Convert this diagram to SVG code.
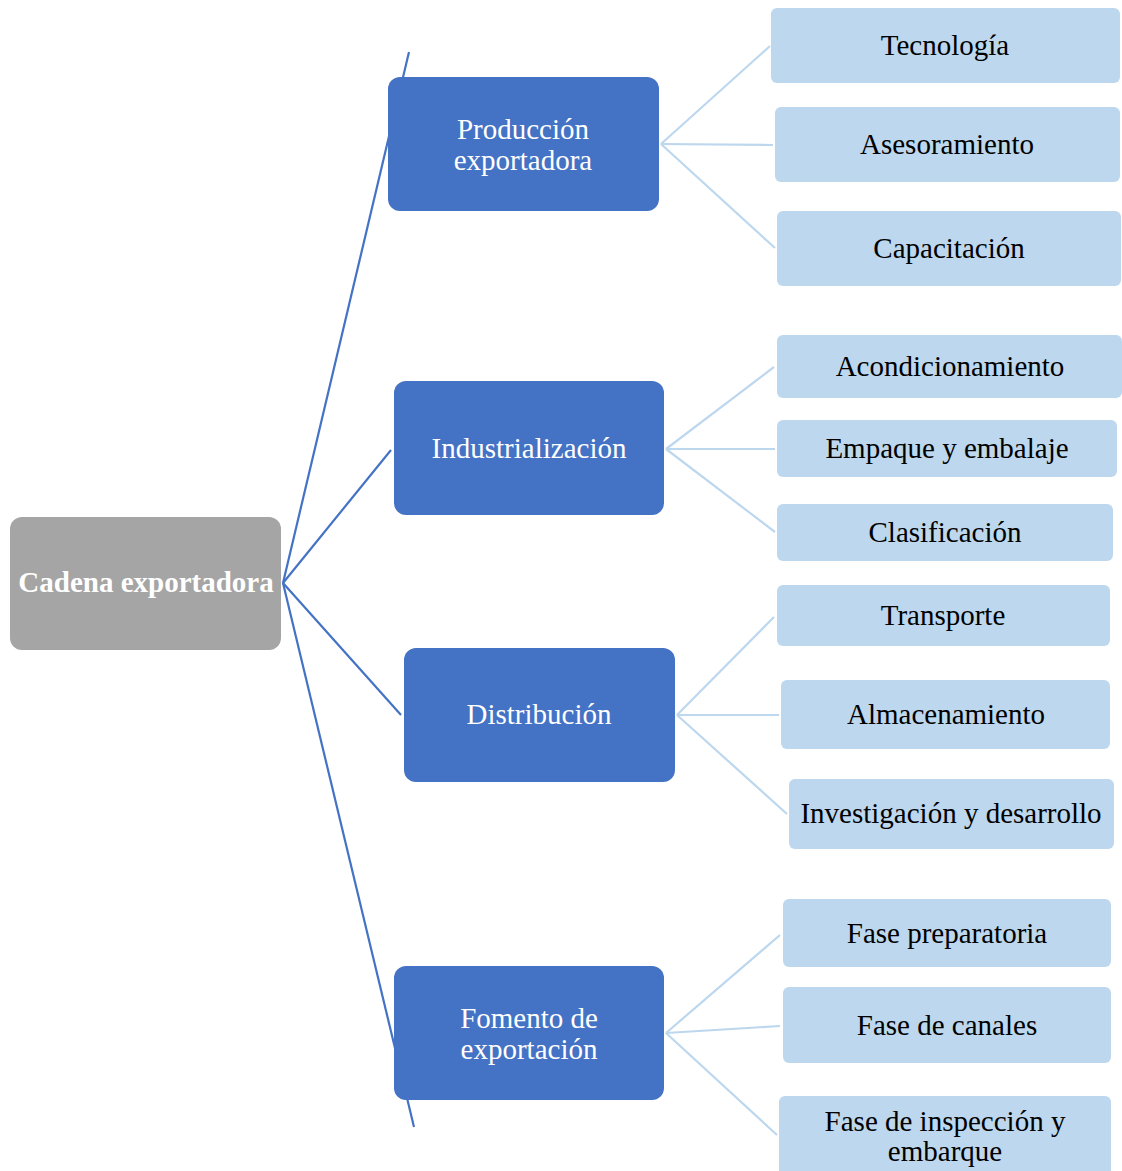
<svg xmlns="http://www.w3.org/2000/svg" width="1122" height="1171" viewBox="0 0 1122 1171">
<style>
text{font-family:"Liberation Serif","Times New Roman",serif;font-size:29px;text-anchor:middle}
.root rect{fill:#a5a5a5}
.root text{fill:#fff;font-weight:bold}
.l1 rect{fill:#4472c4}
.l1 text{fill:#fff}
.l2 rect{fill:#bdd7ee}
.l2 text{fill:#000}
.c1 line{stroke:#4472c4;stroke-width:2.2}
.c2 line{stroke:#bdd7ee;stroke-width:2.2}
</style>
<rect width="1122" height="1171" fill="#fff"/>
<g id="connectors">
<g class="c1">
<line x1="283" y1="583" x2="409" y2="52"/>
<line x1="283" y1="583" x2="391" y2="450"/>
<line x1="283" y1="583" x2="401" y2="715"/>
<line x1="283" y1="583" x2="414" y2="1127"/>
</g>
<g class="c2">
<line x1="661" y1="144" x2="770" y2="46"/>
<line x1="661" y1="144" x2="773" y2="145"/>
<line x1="661" y1="144" x2="775" y2="248"/>
<line x1="666" y1="449" x2="774" y2="367"/>
<line x1="666" y1="449" x2="775" y2="449"/>
<line x1="666" y1="449" x2="775" y2="532"/>
<line x1="677" y1="715" x2="774" y2="617"/>
<line x1="677" y1="715" x2="779" y2="715"/>
<line x1="677" y1="715" x2="787" y2="814"/>
<line x1="666" y1="1033" x2="780" y2="935"/>
<line x1="666" y1="1033" x2="780" y2="1026"/>
<line x1="666" y1="1033" x2="777" y2="1135"/>
</g>
</g>
<g id="root" class="root"><rect x="10" y="517" width="271" height="133" rx="12"/><text x="146" y="592">Cadena exportadora</text></g>
<g id="produccion" class="l1"><rect x="388" y="77" width="271" height="134" rx="12"/><text x="523" y="139">Producción</text><text x="523" y="170">exportadora</text></g>
<g id="industrializacion" class="l1"><rect x="394" y="381" width="270" height="134" rx="12"/><text x="529" y="458">Industrialización</text></g>
<g id="distribucion" class="l1"><rect x="404" y="648" width="271" height="134" rx="12"/><text x="539" y="724">Distribución</text></g>
<g id="fomento" class="l1"><rect x="394" y="966" width="270" height="134" rx="12"/><text x="529" y="1028">Fomento de</text><text x="529" y="1059">exportación</text></g>
<g id="tecnologia" class="l2"><rect x="771" y="8" width="349" height="75" rx="6"/><text x="945" y="55">Tecnología</text></g>
<g id="asesoramiento" class="l2"><rect x="775" y="107" width="345" height="75" rx="6"/><text x="947" y="154">Asesoramiento</text></g>
<g id="capacitacion" class="l2"><rect x="777" y="211" width="344" height="75" rx="6"/><text x="949" y="258">Capacitación</text></g>
<g id="acondicionamiento" class="l2"><rect x="777" y="335" width="345" height="63" rx="6"/><text x="950" y="376">Acondicionamiento</text></g>
<g id="empaque" class="l2"><rect x="777" y="420" width="340" height="57" rx="6"/><text x="947" y="458">Empaque y embalaje</text></g>
<g id="clasificacion" class="l2"><rect x="777" y="504" width="336" height="57" rx="6"/><text x="945" y="542">Clasificación</text></g>
<g id="transporte" class="l2"><rect x="777" y="585" width="333" height="61" rx="6"/><text x="943" y="625">Transporte</text></g>
<g id="almacenamiento" class="l2"><rect x="781" y="680" width="329" height="69" rx="6"/><text x="946" y="724">Almacenamiento</text></g>
<g id="investigacion" class="l2"><rect x="789" y="779" width="325" height="70" rx="6"/><text x="951" y="823">Investigación y desarrollo</text></g>
<g id="preparatoria" class="l2"><rect x="783" y="899" width="328" height="68" rx="6"/><text x="947" y="943">Fase preparatoria</text></g>
<g id="canales" class="l2"><rect x="783" y="987" width="328" height="76" rx="6"/><text x="947" y="1035">Fase de canales</text></g>
<g id="inspeccion" class="l2"><rect x="779" y="1096" width="332" height="90" rx="6"/><text x="945" y="1131">Fase de inspección y</text><text x="945" y="1161">embarque</text></g>
</svg>
